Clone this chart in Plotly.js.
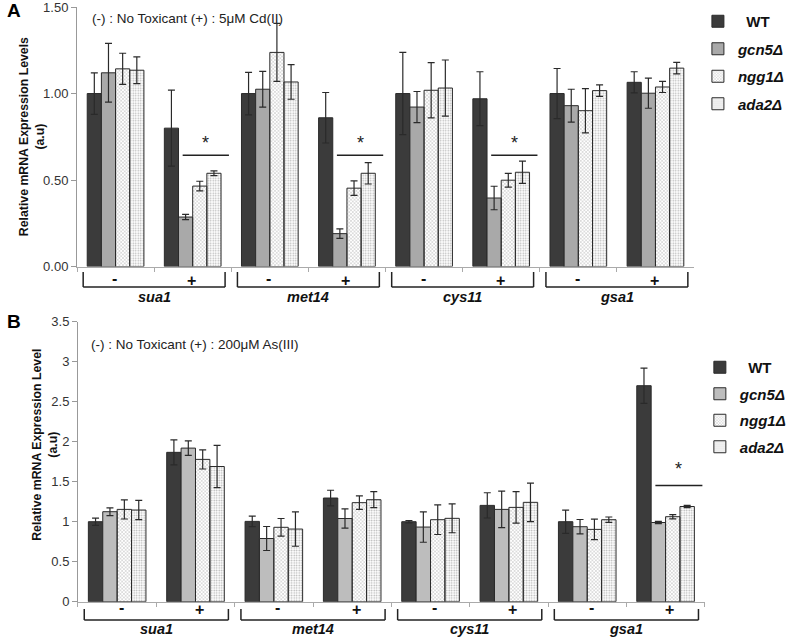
<!DOCTYPE html>
<html>
<head>
<meta charset="utf-8">
<script src="https://cdn.plot.ly/plotly-3.0.1.min.js"></script>
<style>html,body{margin:0;padding:0;background:#fff;}#chart{width:792px;height:639px;}</style>
</head>
<body>
<div id="chart"></div>
<script>
// ---------- DATA ----------
const genes = ['sua1', 'met14', 'cys11', 'gsa1'];
const treatments = ['-', '+'];
const strains = ['WT', 'gcn5Δ', 'ngg1Δ', 'ada2Δ'];

// Panel A: 5µM Cd(II)
const wtA      = [1.00, 0.80, 1.00, 0.86, 1.00, 0.97, 1.00, 1.065];
const wtAErr   = [0.12, 0.22, 0.123, 0.146, 0.238, 0.156, 0.145, 0.061];
const gcn5A    = [1.12, 0.286, 1.025, 0.19, 0.922, 0.396, 0.93, 1.002];
const gcn5AErr = [0.17, 0.015, 0.103, 0.027, 0.09, 0.068, 0.095, 0.087];
const ngg1A    = [1.143, 0.465, 1.238, 0.453, 1.019, 0.499, 0.901, 1.038];
const ngg1AErr = [0.09, 0.028, 0.168, 0.042, 0.16, 0.04, 0.128, 0.032];
const ada2A    = [1.135, 0.539, 1.067, 0.539, 1.032, 0.545, 1.017, 1.147];
const ada2AErr = [0.077, 0.014, 0.10, 0.062, 0.162, 0.064, 0.033, 0.033];

// Panel B: 200µM As(III)
const wtB      = [1.0, 1.867, 1.004, 1.296, 1.0, 1.204, 1.0, 2.70];
const wtBErr   = [0.045, 0.157, 0.065, 0.097, 0.015, 0.158, 0.145, 0.22];
const gcn5B    = [1.125, 1.92, 0.79, 1.04, 0.933, 1.154, 0.9375, 0.99];
const gcn5BErr = [0.048, 0.09, 0.15, 0.12, 0.19, 0.227, 0.09, 0.013];
const ngg1B    = [1.154, 1.779, 0.93, 1.238, 1.025, 1.179, 0.904, 1.0625];
const ngg1BErr = [0.12, 0.12, 0.11, 0.085, 0.185, 0.196, 0.127, 0.027];
const ada2B    = [1.146, 1.69, 0.908, 1.275, 1.042, 1.242, 1.025, 1.19];
const ada2BErr = [0.12, 0.265, 0.215, 0.1, 0.18, 0.24, 0.034, 0.015];

// significance markers: category index and level
const sigA = [{cat: 1, y: 0.644}, {cat: 3, y: 0.644}, {cat: 5, y: 0.644}];
const sigB = [{cat: 7, y: 1.454}];

const noteA = '(-) : No Toxicant (+) : 5μM Cd(II)';
const noteB = '(-) : No Toxicant (+) : 200μM As(III)';
const yTitleA = 'Relative mRNA Expression Levels<br>(a.u)';
const yTitleB = 'Relative mRNA Expression Level<br>(a.u)';
const yTicksA = [0, 0.5, 1, 1.5];

// ---------- BUILD ----------
const categories = [];
genes.forEach(g => treatments.forEach(t => categories.push(g + ' ' + t)));

const W = 792, H = 639;
const px = v => v / W;
const py = v => 1 - v / H;
const FONT = 'Liberation Sans, Arial, sans-serif';

const patX = {shape: 'x', size: 2.5, solidity: 0.25, fgcolor: '#a0a0a0'};
const patDot = {shape: '.', size: 2.5, solidity: 0.3, fgcolor: '#b4b4b4'};
const styles = [
  {color: '#3b3b3b', pattern: null},
  {color: '#a9a9a9', pattern: null},
  {color: '#cfcfcf', pattern: patX},
  {color: '#e2e2e2', pattern: patDot}
];
const stylesB = [
  {color: '#3b3b3b', pattern: null},
  {color: '#bdbdbd', pattern: null},
  {color: '#cfcfcf', pattern: patX},
  {color: '#e2e2e2', pattern: patDot}
];

const legendNames = ['&nbsp;&nbsp;<b>WT</b>', '<b><i>gcn5Δ</i></b>', '<b><i>ngg1Δ</i></b>', '<b><i>ada2Δ</i></b>'];

function makeTraces(vals, errs, xa, ya, legend, st, grpPrefix) {
  return vals.map((v, i) => {
    const m = {color: st[i].color, line: {color: '#2a2a2a', width: 1}};
    if (st[i].pattern) m.pattern = st[i].pattern;
    return {
      type: 'bar', x: categories, y: v, name: legendNames[i],
      xaxis: xa, yaxis: ya, legend: legend, legendgroup: grpPrefix + i,
      marker: m,
      error_y: {type: 'data', array: errs[i], visible: true, color: '#2a2a2a', thickness: 1.2, width: 3.5}
    };
  });
}

const traces = [
  ...makeTraces([wtA, gcn5A, ngg1A, ada2A], [wtAErr, gcn5AErr, ngg1AErr, ada2AErr], 'x', 'y', 'legend', styles, 'a'),
  ...makeTraces([wtB, gcn5B, ngg1B, ada2B], [wtBErr, gcn5BErr, ngg1BErr, ada2BErr], 'x2', 'y2', 'legend2', stylesB, 'b')
];

const shapes = [];
const annotations = [];

function addPanelDecor(xa, sig, asteriskOffset, bracketTop, bracketBot, pmY, geneY, pmShift) {
  sig.forEach(s => {
    shapes.push({type: 'line', xref: xa, yref: xa.replace('x', 'y'), x0: s.cat - 0.13, x1: s.cat + 0.47, y0: s.y, y1: s.y,
      line: {color: '#222', width: 1.5}});
    annotations.push({xref: xa, yref: xa.replace('x', 'y'), x: s.cat + 0.17, y: s.y + asteriskOffset, text: '*',
      showarrow: false, font: {family: FONT, size: 18, color: '#222'}});
  });
  genes.forEach((g, gi) => {
    const x0 = gi * 2 - 0.42, x1 = gi * 2 + 1.42;
    const ln = {color: '#222', width: 1.5};
    shapes.push({type: 'line', xref: xa, yref: 'paper', x0: x0, x1: x1, y0: py(bracketBot), y1: py(bracketBot), line: ln});
    shapes.push({type: 'line', xref: xa, yref: 'paper', x0: x0, x1: x0, y0: py(bracketBot), y1: py(bracketTop), line: ln});
    shapes.push({type: 'line', xref: xa, yref: 'paper', x0: x1, x1: x1, y0: py(bracketBot), y1: py(bracketTop), line: ln});
    annotations.push({xref: xa, yref: 'paper', x: gi * 2 + 0.5, y: py(geneY), text: '<b><i>' + g + '</i></b>',
      showarrow: false, yanchor: 'middle', font: {family: FONT, size: 14.5, color: '#111'}});
    treatments.forEach((t, ti) => {
      annotations.push({xref: xa, yref: 'paper', x: gi * 2 + ti, y: py(pmY + (ti ? 2 : 0)), text: '<b>' + t + '</b>',
        showarrow: false, yanchor: 'middle', xshift: pmShift, font: {family: FONT, size: 16, color: '#111'}});
    });
  });
}

addPanelDecor('x', sigA, 0.07, 272, 287, 278, 297, -1);
addPanelDecor('x2', sigB, 0.2, 609, 620, 607, 629, 4);

annotations.push({xref: 'paper', yref: 'paper', x: px(5), y: py(10), text: '<b>A</b>', showarrow: false,
  xanchor: 'left', yanchor: 'middle', font: {family: FONT, size: 19, color: '#000'}});
annotations.push({xref: 'paper', yref: 'paper', x: px(5), y: py(322), text: '<b>B</b>', showarrow: false,
  xanchor: 'left', yanchor: 'middle', font: {family: FONT, size: 19, color: '#000'}});
annotations.push({xref: 'paper', yref: 'paper', x: px(92), y: py(19), text: noteA, showarrow: false,
  xanchor: 'left', yanchor: 'middle', font: {family: FONT, size: 13.5, color: '#222'}});
annotations.push({xref: 'paper', yref: 'paper', x: px(91), y: py(344), text: noteB, showarrow: false,
  xanchor: 'left', yanchor: 'middle', font: {family: FONT, size: 13.5, color: '#222'}});
// y-axis titles
annotations.push({xref: 'paper', yref: 'paper', x: px(33), y: py(137), text: '<b>' + yTitleA + '</b>', textangle: -90,
  showarrow: false, xanchor: 'center', yanchor: 'middle', font: {family: FONT, size: 12.3, color: '#111'}});
annotations.push({xref: 'paper', yref: 'paper', x: px(46), y: py(445), text: '<b>' + yTitleB + '</b>', textangle: -90,
  showarrow: false, xanchor: 'center', yanchor: 'middle', font: {family: FONT, size: 12.3, color: '#111'}});

const xCommon = {
  type: 'category', categoryorder: 'array', categoryarray: categories, range: [-0.5, 7.5],
  showticklabels: false, ticks: 'outside', tickson: 'boundaries', ticklen: 4, tickcolor: '#aaa',
  showline: true, linecolor: '#aaa', linewidth: 1, showgrid: false, zeroline: false, fixedrange: true
};
const yCommon = {
  ticks: 'outside', ticklen: 5, tickcolor: '#999', showline: true, linecolor: '#999', linewidth: 1,
  showgrid: false, zeroline: false, tickfont: {family: FONT, size: 13, color: '#333'}, fixedrange: true,
  ticklabeloverflow: 'allow'
};

const layout = {
  width: W, height: H, margin: {l: 0, r: 0, t: 0, b: 0},
  paper_bgcolor: '#fff', plot_bgcolor: '#fff',
  barmode: 'group', bargap: 0.265, bargroupgap: 0,
  font: {family: FONT},
  xaxis: Object.assign({}, xCommon, {domain: [px(79), px(712)], anchor: 'y'}),
  yaxis: Object.assign({}, yCommon, {domain: [py(266.5), py(7)], anchor: 'x', range: [0, 1.5005],
    tickvals: yTicksA, tickformat: '.2f'}),
  xaxis2: Object.assign({}, xCommon, {domain: [px(80), px(723)], anchor: 'y2'}),
  yaxis2: Object.assign({}, yCommon, {domain: [py(601.7), py(321.7)], anchor: 'x2', range: [0, 3.5], dtick: 0.5}),
  legend: {x: px(716), y: py(5), xanchor: 'left', yanchor: 'top', tracegroupgap: 5,
    font: {family: FONT, size: 15, color: '#111'}, bgcolor: 'rgba(0,0,0,0)', itemwidth: 30},
  legend2: {x: px(718), y: py(351), xanchor: 'left', yanchor: 'top', tracegroupgap: 4,
    font: {family: FONT, size: 15, color: '#111'}, bgcolor: 'rgba(0,0,0,0)', itemwidth: 30},
  shapes: shapes,
  annotations: annotations,
  showlegend: true
};

Plotly.newPlot('chart', traces, layout, {displayModeBar: false, staticPlot: true});
</script>
</body>
</html>
